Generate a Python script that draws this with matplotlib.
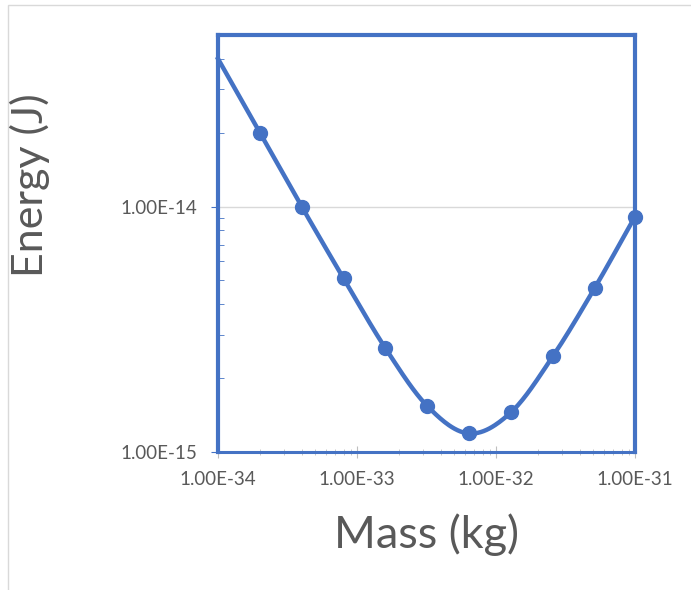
import matplotlib.pyplot as plt
import numpy as np
from matplotlib.ticker import LogLocator, FixedLocator, NullFormatter

# data (mass in kg, energy in J)
mass = [1.0e-34, 2.0e-34, 4.0e-34, 8.0e-34, 1.6e-33, 3.2e-33, 6.4e-33,
        1.28e-32, 2.56e-32, 5.12e-32, 1.0e-31]
energy = [4.0e-14, 2.0e-14, 1.0e-14, 5.1e-15, 2.65e-15, 1.54e-15, 1.19e-15,
          1.45e-15, 2.45e-15, 4.65e-15, 9.1e-15]

x_ticks = [1e-34, 1e-33, 1e-32, 1e-31]
x_labels = ["1.00E-34", "1.00E-33", "1.00E-32", "1.00E-31"]
y_ticks = [1e-15, 1e-14]
y_labels = ["1.00E-15", "1.00E-14"]

BLUE = "#4472C4"
GREY = "#595959"


def smooth(xs, ys, n=30):
    # catmull-rom through the points in log-log space (like excel's smoothed line)
    lx = np.log10(xs)
    ly = np.log10(ys)
    px = np.concatenate([[2 * lx[0] - lx[1]], lx, [2 * lx[-1] - lx[-2]]])
    py = np.concatenate([[2 * ly[0] - ly[1]], ly, [2 * ly[-1] - ly[-2]]])
    ox, oy = [], []
    t = np.linspace(0, 1, n)
    for i in range(1, len(px) - 2):
        for p, o in ((px, ox), (py, oy)):
            p0, p1, p2, p3 = p[i - 1], p[i], p[i + 1], p[i + 2]
            o.extend(0.5 * (2 * p1 + (-p0 + p2) * t
                            + (2 * p0 - 5 * p1 + 4 * p2 - p3) * t ** 2
                            + (-p0 + 3 * p1 - 3 * p2 + p3) * t ** 3))
    return 10 ** np.array(ox), 10 ** np.array(oy)


plt.rcParams['font.family'] = ['Lato', 'DejaVu Sans']

fig = plt.figure(figsize=(6.91, 5.90), dpi=100)
# light outer chart border
fig.add_artist(plt.Rectangle((8 / 691, -0.01), 1.0, 1 - 5 / 590 + 0.01,
                             transform=fig.transFigure, fill=False,
                             edgecolor="#D9D9D9", linewidth=1))

ax = fig.add_axes([218 / 691, 1 - 452 / 590, (635 - 218) / 691, (452 - 35) / 590])
ax.set_xscale("log")
ax.set_yscale("log")
ax.set_xlim(1e-34, 1e-31)
ax.set_ylim(1e-15, 5e-14)

sx, sy = smooth(mass, energy)
ax.plot(sx, sy, color=BLUE, linewidth=3.2, clip_on=False, zorder=3)
ax.plot(mass[1:], energy[1:], "o", color=BLUE, markersize=10, clip_on=False, zorder=4)

ax.axhline(1e-14, color="#D9D9D9", linewidth=1, zorder=1)

for side in ["left", "right", "top"]:
    ax.spines[side].set_color(BLUE)
    ax.spines[side].set_linewidth(3)
ax.spines["bottom"].set_color(BLUE)
ax.spines["bottom"].set_linewidth(2.2)

ax.xaxis.set_major_locator(FixedLocator(x_ticks))
ax.set_xticklabels(x_labels)
ax.yaxis.set_major_locator(FixedLocator(y_ticks))
ax.set_yticklabels(y_labels)
ax.xaxis.set_minor_locator(LogLocator(base=10, subs=np.arange(2, 10)))
ax.yaxis.set_minor_locator(LogLocator(base=10, subs=np.arange(2, 10)))
ax.xaxis.set_minor_formatter(NullFormatter())
ax.yaxis.set_minor_formatter(NullFormatter())

ax.tick_params(axis="x", which="major", direction="inout", length=8, color="#BFBFBF",
               labelsize=13.5, labelcolor=GREY, pad=10)
ax.tick_params(axis="x", which="minor", direction="inout", length=5, color="#BFBFBF")
ax.tick_params(axis="y", which="major", direction="out", length=5, color=BLUE,
               labelsize=13.5, labelcolor=GREY, pad=10)
ax.tick_params(axis="y", which="minor", direction="in", length=4, color=BLUE)

fig.text(426 / 691, 1 - 535 / 590, "Mass (kg)", fontsize=32.5, color=GREY,
         ha="center", va="center")
fig.text(30 / 691, 1 - 185 / 590, "Energy (J)", fontsize=31, color=GREY,
         ha="center", va="center", rotation=90)

fig.savefig("out.png", dpi=100)
